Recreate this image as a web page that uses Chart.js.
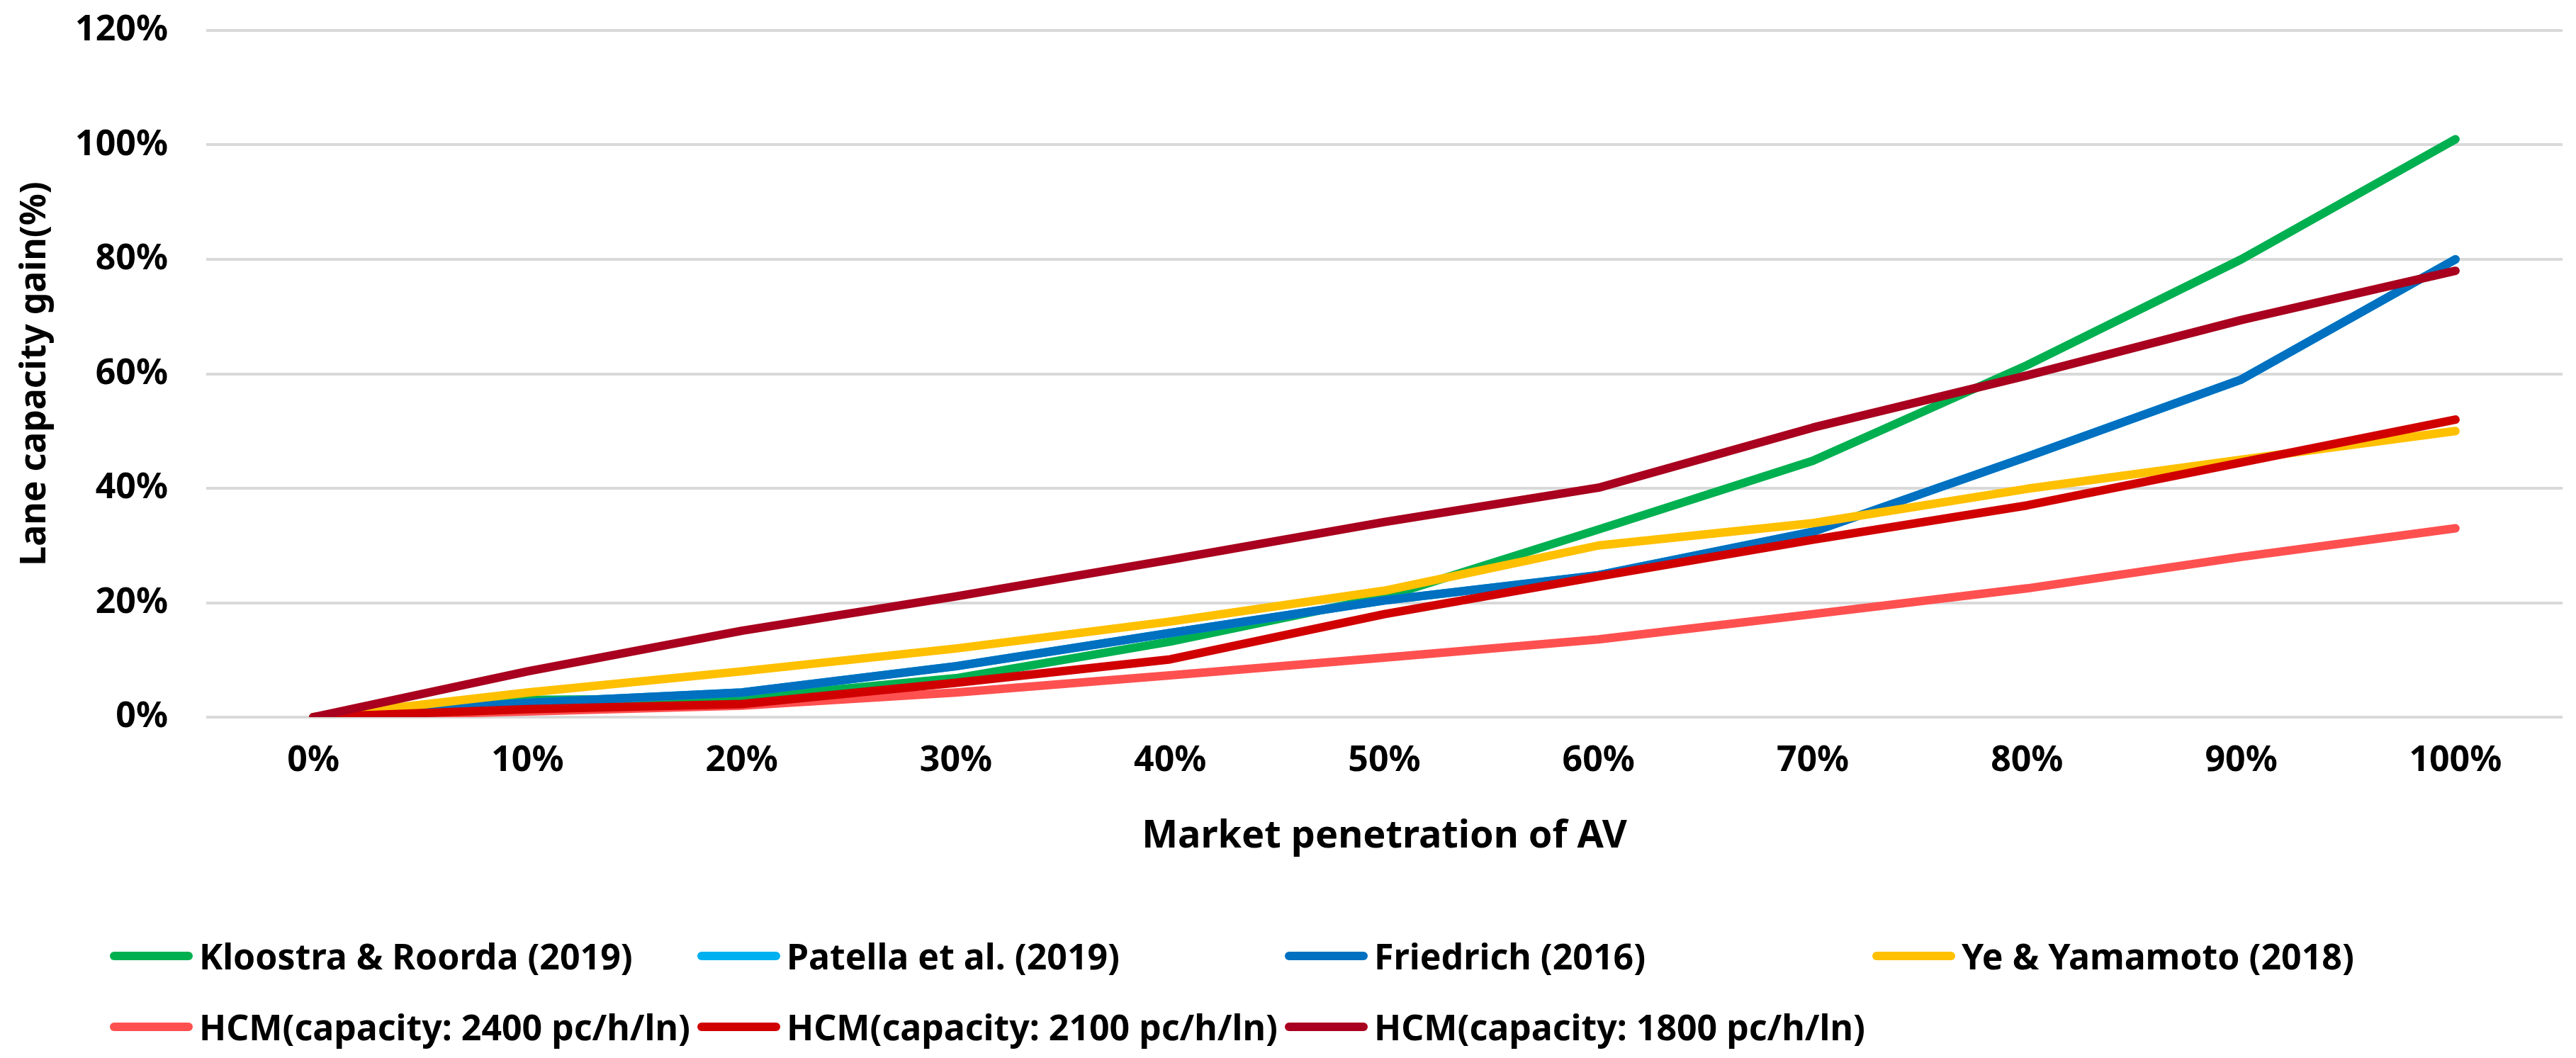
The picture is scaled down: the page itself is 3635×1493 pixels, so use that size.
<!DOCTYPE html>
<html>
<head>
<meta charset="utf-8">
<script src="https://cdn.jsdelivr.net/npm/chart.js@4.4.0/dist/chart.umd.min.js"></script>
<style>
  html, body { margin: 0; padding: 0; background: #fff; }
  #wrap { position: relative; width: 3635px; height: 1493px; }
  #legend { position: absolute; left: 0; top: 0; width: 100%; height: 100%; pointer-events: none; }
  .item { position: absolute; display: flex; align-items: center; height: 80px;
          font: bold 50px "Noto Sans", sans-serif; color: #000; white-space: nowrap; }
  .swatch { width: 117px; height: 12px; border-radius: 6px; margin-right: 9px; }
</style>
</head>
<body>
<div id="wrap">
  <canvas id="chart" width="3635" height="1493"></canvas>
  <div id="legend"></div>
</div>
<script>
// market penetration of AV (x categories)
const penetration = ["0%", "10%", "20%", "30%", "40%", "50%", "60%", "70%", "80%", "90%", "100%"];

// lane capacity gain (%)
const kloostra = [0, 3, 3.3, 6.8, 13.2, 21, 32.8, 44.8, 61.5, 80, 101];
const patella = [0, 2.5, 4.3, 8.9, 14.7, 20.4, 24.8, 32.4, 45.5, 59, 80];
const friedrich = [0, 2.5, 4.3, 8.9, 14.7, 20.4, 24.8, 32.4, 45.5, 59, 80];
const yeYamamoto = [0, 4.3, 8, 12, 16.7, 22.1, 30, 33.9, 39.9, 45, 50];
const hcm2400 = [0, 1, 2, 4.3, 7.3, 10.4, 13.6, 18, 22.5, 28, 33];
const hcm2100 = [0, 1.4, 2.3, 6, 10.1, 18, 24.6, 31, 37, 44.5, 52];
const hcm1800 = [0, 8, 15.1, 21.1, 27.5, 34.1, 40.1, 50.6, 59.7, 69.4, 78];

const seriesNames = [
  "Kloostra & Roorda (2019)", "Patella et al. (2019)", "Friedrich (2016)", "Ye & Yamamoto (2018)",
  "HCM(capacity: 2400 pc/h/ln)", "HCM(capacity: 2100 pc/h/ln)", "HCM(capacity: 1800 pc/h/ln)"
];
const seriesValues = [kloostra, patella, friedrich, yeYamamoto, hcm2400, hcm2100, hcm1800];

// y ticks
const yMin = 0, yMax = 120, yStep = 20;

const colors = ["#00b050", "#00b0f0", "#0070c0", "#ffc000", "#ff5050", "#d10000", "#a8001e"];

const font = "'Noto Sans', sans-serif";

const datasets = seriesNames.map((name, i) => ({
  label: name,
  data: seriesValues[i],
  borderColor: colors[i],
  backgroundColor: colors[i],
  borderWidth: 12,
  borderJoinStyle: "round",
  borderCapStyle: "round",
  pointRadius: 0,
  tension: 0,
  fill: false,
  order: seriesNames.length - i, // later series on top, like the original
}));

const chart = new Chart(document.getElementById("chart"), {
  type: "line",
  data: { labels: penetration, datasets: datasets },
  options: {
    responsive: false,
    devicePixelRatio: 1,
    animation: false,
    layout: { autoPadding: false, padding: { left: 0, right: 19, top: 43, bottom: 278 } },
    plugins: { legend: { display: false }, tooltip: { enabled: false } },
    scales: {
      x: {
        offset: true,
        grid: { display: false, drawTicks: false },
        border: { display: false },
        ticks: { color: "#000", padding: 32, font: { family: font, size: 50, weight: "bold" } },
        title: {
          display: true,
          text: "Market penetration of AV",
          color: "#000",
          padding: { top: 0, bottom: 2 },
          font: { family: font, size: 54, weight: "bold" },
        },
        afterFit: (s) => { s.height = 203; },
      },
      y: {
        min: yMin,
        max: yMax,
        grid: { color: "#d9d9d9", lineWidth: 4, drawTicks: false },
        border: { display: false },
        ticks: {
          stepSize: yStep,
          color: "#000",
          padding: 54,
          font: { family: font, size: 50, weight: "bold" },
          callback: (v) => v + "%",
        },
        title: {
          display: true,
          text: "Lane capacity gain(%)",
          color: "#000",
          padding: { top: 20, bottom: 0 },
          font: { family: font, size: 50, weight: "bold" },
        },
        afterFit: (s) => {
          s.width = 291;
          // tick padding would otherwise push the plot top down
          s.paddingTop = 0;
          s.paddingBottom = 0;
        },
      },
    },
  },
});

// legend laid out in the four-column grid of the original
const legend = document.getElementById("legend");
chart.data.datasets.forEach((ds, i) => {
  const col = i < 4 ? i : i - 4;
  const row = i < 4 ? 0 : 1;
  const item = document.createElement("div");
  item.className = "item";
  item.style.left = (155 + col * 829) + "px";
  item.style.top = (1309 + row * 100) + "px";
  const sw = document.createElement("span");
  sw.className = "swatch";
  sw.style.background = ds.borderColor;
  const tx = document.createElement("span");
  tx.textContent = ds.label;
  item.appendChild(sw);
  item.appendChild(tx);
  legend.appendChild(item);
});
</script>
</body>
</html>
